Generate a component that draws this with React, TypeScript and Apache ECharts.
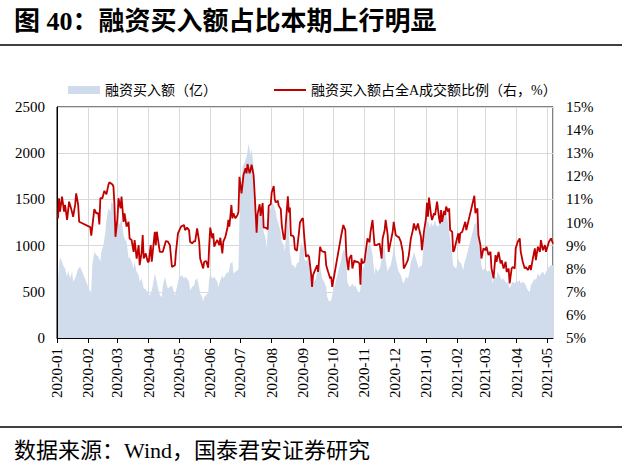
import React, { useEffect, useRef } from "react";
import * as echarts from "echarts";

// day offsets from 2020-01-01
const amountData: [number, number][] = [
  [1, 644], [2, 788], [3, 879], [5, 824], [6, 788], [8, 752], [10, 662], [11, 734], [13, 644], [15, 716], [16, 608], [18, 644], [20, 716], [21, 752], [23, 770],
  [33, 500], [34, 520], [35, 788], [37, 933], [39, 897], [41, 879], [43, 824], [44, 933], [46, 1005], [48, 1150], [49, 1277], [51, 1403], [53, 1367], [54, 1476], [56, 1439], [57, 1331], [58, 1114],
  [60, 1132], [61, 1295], [62, 1222], [64, 1295], [66, 1114], [67, 1078], [69, 1042], [71, 861], [72, 879], [74, 824], [76, 752], [77, 824], [79, 716], [81, 680], [82, 608], [84, 644], [86, 535], [87, 535], [90, 499],
  [92, 463], [94, 517], [95, 571], [97, 698], [99, 608], [100, 553], [102, 463], [104, 445], [105, 571], [107, 662], [109, 571], [110, 535], [112, 553], [114, 571], [115, 535], [117, 463], [119, 553], [120, 608],
  [121, 644], [122, 662], [124, 680], [126, 644], [127, 662], [129, 644], [131, 608], [132, 517], [134, 553], [136, 571], [137, 626], [139, 644], [141, 553], [142, 481], [144, 445], [145, 391], [146, 445], [148, 463], [150, 499],
  [151, 644], [152, 698], [154, 644], [156, 662], [157, 644], [159, 608], [160, 553], [162, 626], [164, 680], [165, 644], [167, 680], [169, 716], [170, 698], [172, 807], [174, 824], [175, 698], [177, 716], [179, 734], [180, 752],
  [181, 1300], [183, 1650], [184, 1850], [186, 1900], [188, 1960], [189, 2020], [190, 2100], [192, 1980], [193, 2050], [195, 1850], [197, 1331], [198, 1150], [200, 1295], [202, 1439], [203, 1403], [205, 1150], [207, 1078], [208, 969],
  [210, 1367], [212, 1403], [213, 1476], [215, 1439], [217, 1367], [218, 1295], [220, 1222], [222, 1150], [223, 1042], [225, 1005], [226, 933], [228, 1222], [229, 1400], [230, 1150], [231, 933], [233, 788], [235, 788], [236, 752], [238, 807], [240, 824], [241, 969], [243, 1042],
  [244, 960], [245, 861], [247, 824], [249, 879], [250, 788], [252, 644], [253, 590], [255, 608], [257, 644], [258, 752], [260, 824], [262, 716], [263, 644], [265, 608], [267, 553], [268, 445], [270, 391], [272, 409], [273, 463],
  [282, 850], [283, 915], [285, 969], [287, 824], [288, 608], [290, 553], [292, 571], [293, 590], [295, 553], [296, 571], [298, 517], [300, 481], [301, 535], [303, 752], [305, 788], [306, 824], [308, 969], [310, 1042], [311, 1005], [313, 897],
  [315, 680], [316, 770], [318, 716], [320, 752], [321, 788], [323, 933], [325, 1005], [326, 843], [328, 716], [329, 752], [331, 788], [333, 897], [334, 1005], [336, 861], [338, 752], [339, 716], [341, 680], [343, 608], [344, 590], [346, 662],
  [348, 644], [349, 680], [351, 824], [353, 879], [354, 933], [356, 861], [358, 788], [359, 752], [361, 788], [362, 770], [364, 1078], [366, 1200],
  [368, 1277], [370, 1186], [371, 1259], [373, 1204], [375, 1277], [376, 1222], [378, 1204], [380, 1259], [381, 1331], [383, 1295], [385, 1331], [386, 1367], [388, 1240], [389, 1150], [391, 1005], [393, 788], [394, 770], [396, 752],
  [398, 861], [399, 824], [401, 807], [403, 734], [404, 807], [406, 879], [414, 1222], [416, 1259], [418, 1168], [419, 1005], [421, 788], [422, 734], [424, 752], [426, 734], [427, 716], [429, 734], [431, 698], [432, 590], [434, 680],
  [436, 644], [437, 716], [439, 680], [441, 626], [442, 644], [444, 626], [446, 590], [447, 608], [449, 535], [451, 590], [452, 608], [454, 590], [455, 608], [457, 608], [459, 626], [460, 590], [462, 608], [464, 590], [465, 571],
  [467, 517], [469, 499], [470, 571], [472, 608], [474, 644], [475, 626], [477, 698], [479, 662], [480, 698], [482, 716], [484, 680], [485, 716], [487, 752], [488, 770], [490, 788], [492, 788],
];

const ratioData: [number, number][] = [
  [1, 10.18], [2, 11.05], [3, 10.47], [5, 11.12], [7, 10.47], [8, 10.76], [10, 10.11], [12, 10.9], [14, 10.61], [16, 10.25], [18, 10.76], [19, 11.26], [21, 10.76], [22, 10.03],
  [33, 9.8], [34, 9.43], [37, 10.58], [39, 10.4], [41, 10.4], [42, 9.92], [43, 11.05], [45, 11.05], [47, 11.37], [49, 11.22], [51, 11.63], [52, 11.74], [55, 11.65], [56, 11.55], [57, 10.76], [58, 9.38],
  [60, 10.18], [61, 11.05], [63, 10.61], [64, 11.12], [66, 10.03], [67, 10.4], [69, 9.82], [71, 10.03], [72, 9.31], [74, 9.24], [76, 8.73], [77, 9.24], [79, 8.44], [81, 9.02], [82, 8.15], [84, 8.73], [85, 9.46], [86, 8.44], [88, 8.66],
  [90, 8.3], [91, 8.3], [93, 9.02], [94, 8.3], [97, 9.6], [98, 9.02], [99, 9.6], [102, 8.73], [104, 8.73], [105, 8.73], [108, 9.2], [110, 9.17], [112, 9.02], [114, 8.08], [117, 8.15], [118, 8.73], [120, 9.53],
  [123, 9.82], [126, 9.89], [127, 9.67], [129, 9.78], [131, 9.67], [132, 9.17], [134, 9.1], [136, 9.2], [137, 9.17], [139, 9.75], [141, 9.17], [142, 8.44], [144, 8.15], [145, 8.01], [146, 8.3], [148, 8.33], [150, 8.04],
  [151, 9.02], [152, 9.78], [154, 9.31], [155, 9.53], [156, 8.95], [158, 9.17], [159, 9.24], [161, 9.02], [162, 9.34], [164, 8.66], [165, 9.17], [167, 9.38], [169, 9.75], [170, 10.11], [171, 9.82], [173, 10.76], [174, 10.18],
  [175, 10.4], [177, 10.18], [179, 10.32], [180, 10.47], [181, 11.98], [183, 11.26], [184, 11.63], [185, 12.06], [187, 12.35], [188, 12.13], [189, 12.53], [191, 12.13], [192, 12.27], [193, 12.5], [195, 12.06], [196, 11.3],
  [198, 9.56], [199, 10.36], [201, 10.79], [202, 10.29], [204, 10.84], [205, 9.78], [207, 9.78], [209, 9.7], [210, 10.72], [212, 10.79], [213, 11.3], [215, 11.58], [216, 11.01], [217, 10.87], [219, 10.94], [220, 10.72],
  [222, 10.58], [223, 9.86], [225, 9.28], [226, 9.28], [227, 10.0], [229, 11.13], [230, 10.43], [231, 10.65], [232, 9.43], [234, 9.43], [235, 9.35], [236, 8.85], [238, 8.78], [240, 9.56], [241, 10.0], [243, 10.15],
  [244, 10.18], [245, 9.53], [247, 8.52], [249, 8.59], [250, 8.52], [252, 7.79], [253, 7.21], [254, 7.72], [256, 7.94], [258, 8.15], [259, 7.86], [261, 8.95], [262, 8.8], [264, 8.73], [266, 8.73], [267, 8.15], [269, 7.86],
  [271, 7.58], [272, 7.65], [273, 7.21], [282, 9.46], [284, 9.89], [286, 9.67], [287, 8.59], [289, 7.94], [290, 8.44], [292, 8.59], [293, 8.01], [295, 8.37], [296, 8.3], [298, 8.3], [300, 8.23], [301, 7.31], [302, 8.44],
  [303, 8.23], [305, 8.3], [306, 8.66], [308, 9.31], [310, 9.14], [311, 9.6], [313, 10.11], [314, 9.53], [315, 9.02], [317, 9.02], [318, 9.05], [320, 9.09], [322, 8.44], [323, 9.31], [325, 9.67], [326, 10.11], [328, 9.46],
  [329, 8.73], [331, 9.17], [333, 9.6], [334, 10.03], [336, 9.46], [338, 9.38], [339, 9.38], [341, 9.17], [343, 8.73], [344, 8.01], [346, 8.18], [348, 8.37], [349, 8.59], [351, 9.31], [353, 9.67], [354, 9.96], [356, 9.67],
  [358, 9.96], [359, 9.75], [361, 9.38], [362, 8.8], [364, 9.6], [366, 10.18], [367, 10.85], [368, 10.25], [369, 11.08], [371, 10.32], [372, 10.11], [374, 10.4], [375, 10.32], [377, 10.9], [379, 10.18], [380, 9.96],
  [381, 10.54], [382, 10.03], [384, 10.5], [385, 10.32], [386, 10.69], [388, 10.47], [389, 10.61], [390, 9.67], [392, 9.6], [393, 8.73], [394, 8.8], [396, 9.17], [398, 9.53], [399, 9.09], [400, 9.53], [402, 9.6], [404, 9.89],
  [405, 10.03], [406, 9.67], [414, 11.16], [415, 10.4], [417, 10.61], [418, 9.46], [420, 9.02], [421, 8.44], [423, 8.88], [425, 8.8], [426, 8.95], [428, 8.59], [430, 8.73], [431, 8.01], [433, 7.58], [435, 8.59], [436, 8.3],
  [438, 8.73], [440, 8.23], [441, 8.37], [443, 8.01], [445, 8.3], [446, 7.86], [448, 8.01], [449, 7.36], [451, 8.01], [452, 8.08], [454, 8.01], [455, 8.88], [457, 9.17], [459, 9.31], [460, 8.73], [462, 8.3], [464, 8.01],
  [465, 8.08], [467, 7.94], [469, 8.15], [470, 7.94], [472, 8.44], [474, 8.88], [475, 8.37], [477, 8.95], [479, 8.73], [480, 9.24], [482, 8.8], [484, 9.02], [485, 8.73], [487, 9.02], [488, 9.17], [490, 9.31], [492, 9.09],
];

const AXIS_START_DAY = 0;
const AXIS_END_DAY = 492;
const leftTicks = { min: 0, max: 2500, interval: 500 };
const rightTicks = { min: 5, max: 15, interval: 1 };

const TITLE = "图 40：融资买入额占比本期上行明显";
const SOURCE = "数据来源：Wind，国泰君安证券研究";
const SERIES_A = "融资买入额（亿）";
const SERIES_B = "融资买入额占全A成交额比例（右，%）";

const DAY = 86400000;
const toTime = (d: number) => new Date(2020, 0, 1 + d).getTime();

const SERIF = "'Liberation Serif', 'Noto Sans CJK SC', serif";
const CJK = "'Liberation Serif', 'Noto Sans CJK SC', sans-serif";

export default function App() {
  const ref = useRef<HTMLDivElement>(null);
  useEffect(() => {
    if (!ref.current) return;
    const chart = echarts.init(ref.current, undefined, { renderer: "svg" });
    const option: any = {
      animation: false,
      backgroundColor: "#fff",
      grid: {
        left: 57,
        right: 75,
        top: 107,
        bottom: 128,
        show: true,
        borderColor: "#000",
        borderWidth: 1,
        backgroundColor: "transparent",
      },
      legend: {
        left: 63,
        top: 78,
        itemWidth: 32,
        itemHeight: 8,
        itemGap: 57,
        textStyle: { fontSize: 14, fontFamily: CJK, color: "#000" },
        data: [
          { name: SERIES_A, icon: "rect" },
          { name: SERIES_B, icon: "path://M0,0H32V2H0Z" },
        ],
      },
      xAxis: {
        type: "time",
        min: toTime(AXIS_START_DAY),
        max: toTime(AXIS_END_DAY),
        splitNumber: 17,
        minInterval: 28 * DAY,
        maxInterval: 31 * DAY,
        axisLine: { lineStyle: { color: "#000", width: 1 } },
        axisTick: { show: true, length: 5, lineStyle: { color: "#000" } },
        axisLabel: {
          rotate: 90,
          margin: 10,
          fontSize: 15,
          fontFamily: SERIF,
          color: "#000",
          showMaxLabel: false,
          hideOverlap: false,
          formatter: (v: number) => {
            const d = new Date(v);
            return `${d.getFullYear()}-${String(d.getMonth() + 1).padStart(2, "0")}`;
          },
        },
        splitLine: { show: true, lineStyle: { color: "#D9D9D9", width: 1 } },
      },
      yAxis: [
        {
          type: "value",
          ...leftTicks,
          axisLine: { show: true, lineStyle: { color: "#000" } },
          axisTick: { show: false },
          axisLabel: {
            fontSize: 15,
            fontFamily: SERIF,
            color: "#000",
            margin: 12,
            formatter: (v: number) => String(v),
          },
          splitLine: { show: true, lineStyle: { color: "#D9D9D9", width: 1 } },
        },
        {
          type: "value",
          position: "right",
          ...rightTicks,
          axisLine: { show: false },
          axisTick: { show: false },
          axisLabel: { fontSize: 15, fontFamily: SERIF, color: "#000", margin: 13, formatter: "{value}%" },
          splitLine: { show: false },
        },
      ],
      series: [
        {
          name: SERIES_A,
          type: "line",
          yAxisIndex: 0,
          symbol: "none",
          color: "#D0DCEC",
          lineStyle: { width: 0, color: "#D0DCEC" },
          areaStyle: { color: "#D0DCEC", opacity: 1 },
          data: amountData.map(([d, v]) => [toTime(d), v]),
          z: 1,
        },
        {
          name: SERIES_B,
          type: "line",
          yAxisIndex: 1,
          symbol: "none",
          color: "#C00000",
          lineStyle: { width: 1.8, color: "#C00000" },
          data: ratioData.map(([d, v]) => [toTime(d), v]),
          z: 3,
        },
      ],
      graphic: [
        {
          type: "text",
          x: 14,
          y: 21,
          style: {
            text: TITLE,
            fontSize: 26,
            fontWeight: "bold",
            fontFamily: SERIF,
            fill: "#000",
            verticalAlign: "middle",
          },
        },
        {
          type: "line",
          shape: { x1: 0, y1: 45, x2: 622, y2: 45 },
          style: { stroke: "#000", lineWidth: 1.5 },
        },
        {
          type: "line",
          shape: { x1: 0, y1: 427, x2: 622, y2: 427 },
          style: { stroke: "#000", lineWidth: 1.5 },
        },
        {
          type: "text",
          x: 14,
          y: 450,
          style: {
            text: SOURCE,
            fontSize: 22,
            fontFamily: SERIF,
            fill: "#000",
            verticalAlign: "middle",
          },
        },
      ],
    };
    chart.setOption(option);
    return () => chart.dispose();
  }, []);
  return (
    <div
      ref={ref}
      style={{ position: "absolute", left: 0, top: 0, width: 628, height: 466, background: "#fff" }}
    />
  );
}
